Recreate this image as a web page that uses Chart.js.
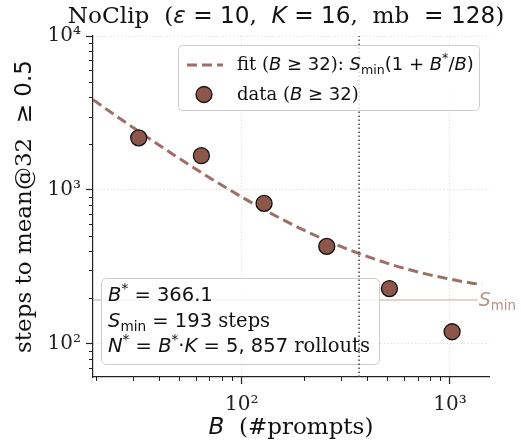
<!DOCTYPE html>
<html><head><meta charset="utf-8">
<script src="https://cdn.jsdelivr.net/npm/chart.js@4.4.1/dist/chart.umd.min.js"></script>
<style>html,body{margin:0;padding:0;background:#fff;overflow:hidden}#wrap{width:521px;height:446px;position:relative}</style>
</head><body><div id="wrap"><canvas id="c" width="521" height="446"></canvas></div>
<script>
// ---- data ----
const batchSizes     = [32, 64, 128, 256, 512, 1024];
const stepsToTarget  = [2180, 1670, 818, 430, 229, 120];
const fitB           = [19.3, 24, 32, 40, 48, 64, 80, 100, 128, 160, 200, 256, 320, 400, 512, 640, 800, 1024, 1280, 1425];
const fitSteps       = [3854, 3137, 2401, 1959, 1665, 1297, 1076, 900, 745, 635, 546, 469, 414, 370, 331, 303, 281, 262, 248, 243];
const sMinLineB      = [19.3, 1360];
const sMinLineSteps  = [193, 193];
const bStarLineB     = [366.1, 366.1];
const bStarLineSteps = [61, 10000];
const xTickValues = [20,30,40,50,60,70,80,90,100,200,300,400,500,600,700,800,900,1000];
const yTickValues = [70,80,90,100,200,300,400,500,600,700,800,900,1000,2000,3000,4000,5000,6000,7000,8000,9000,10000];
const xRange = [19.3, 1540];
const yRange = [61, 10000];

// ---- text ----
const titleSegs = [['NoClip  (','serif'],['ε','it'],[' = 10','sans'],[',  ','serif'],['K','it'],[' = 16','sans'],[',  mb ','serif'],[' = 128','sans'],[')','serif']];
const xLabelSegs = [['B','it'],['  (#prompts)','serif']];
const yLabelSegs = [['steps to mean@32 ','serif'],[' ≥ 0.5','sans']];
const legendFitSegs = [['fit (','serif'],['B','it'],[' ≥ 32','sans'],['): ','serif'],['S','it'],['min','sub'],['(1 + ','sans'],['B','it'],['*','sup'],['/','sans'],['B','it'],[')','sans']];
const legendDataSegs = [['data (','serif'],['B','it'],[' ≥ 32','sans'],[')','serif']];
const noteRows = [
  [['B','it'],['*','sup'],[' = 366.1','sans']],
  [['S','it'],['min','sub'],[' = 193','sans'],[' steps','serif']],
  [['N','it'],['*','sup'],[' = ','sans'],['B','it'],['*','sup'],['·','sans'],['K','it'],[' = 5, 857','sans'],[' rollouts','serif']]
];
const sMinLabelSegs = [['S','it'],['min','sub']];

// ---- styles ----
const BROWN = '#8c564b';
const FIT_COLOR = 'rgba(140,86,75,0.85)';
const SMIN_COLOR = 'rgba(140,86,75,0.35)';
const SERIF = "'DejaVu Serif'", SANS = "'DejaVu Sans'";
const SUP = {'0':'⁰','1':'¹','2':'²','3':'³','4':'⁴','5':'⁵','6':'⁶','7':'⁷','8':'⁸','9':'⁹'};

function isPow10(v){ const l = Math.log10(v); return Math.abs(l - Math.round(l)) < 1e-9; }
function pow10Label(v){ return '10' + String(Math.round(Math.log10(v))).split('').map(c=>SUP[c]).join(''); }
function majorCtx(c){ return c.tick && isPow10(c.tick.value); }

function fontFor(kind, size){
  if (kind === 'serif') return size + 'px ' + SERIF;
  if (kind === 'it') return 'italic ' + size + 'px ' + SANS;
  return size + 'px ' + SANS;
}
function drawRich(ctx, segs, x, y, size, align){
  const parts = segs.map(([t,k]) => {
    let s = size, dy = 0, f = k;
    if (k === 'sub'){ s = size*0.7; dy = size*0.22; f = 'sans'; }
    if (k === 'sup'){ s = size*0.7; dy = -size*0.42; f = 'sans'; }
    ctx.font = fontFor(f, s);
    return {t, font: ctx.font, dy, w: ctx.measureText(t).width};
  });
  const total = parts.reduce((a,p)=>a+p.w, 0);
  let cx = align === 'center' ? x - total/2 : (align === 'right' ? x - total : x);
  ctx.textBaseline = 'alphabetic'; ctx.textAlign = 'left';
  for (const p of parts){ ctx.font = p.font; ctx.fillText(p.t, cx, y + p.dy); cx += p.w; }
  return total;
}
function roundBox(ctx, x, y, w, h, r, fill, stroke){
  ctx.save();
  ctx.beginPath();
  ctx.moveTo(x+r, y); ctx.lineTo(x+w-r, y); ctx.arcTo(x+w, y, x+w, y+r, r);
  ctx.lineTo(x+w, y+h-r); ctx.arcTo(x+w, y+h, x+w-r, y+h, r);
  ctx.lineTo(x+r, y+h); ctx.arcTo(x, y+h, x, y+h-r, r);
  ctx.lineTo(x, y+r); ctx.arcTo(x, y, x+r, y, r);
  ctx.closePath();
  ctx.fillStyle = fill; ctx.fill();
  ctx.lineWidth = 1; ctx.strokeStyle = stroke; ctx.stroke();
  ctx.restore();
}

const decorations = {
  id: 'decorations',
  beforeDatasetDraw(chart, args){
    if (args.index === 3){ // vertical B* line drawn over the note box
      roundBox(chart.ctx, 101.5, 278.5, 278, 86, 5, 'rgba(255,255,255,0.8)', '#cccccc');
    }
  },
  afterDatasetsDraw(chart){
    const ctx = chart.ctx, xs = chart.scales.x, ys = chart.scales.y, a = chart.chartArea;
    ctx.save();
    // minor ticks
    ctx.strokeStyle = '#222'; ctx.lineWidth = 1;
    ctx.beginPath();
    xTickValues.filter(v=>!isPow10(v)).forEach(v => { const p = Math.round(xs.getPixelForValue(v))+0.5; ctx.moveTo(p, a.bottom); ctx.lineTo(p, a.bottom+4); });
    yTickValues.filter(v=>!isPow10(v)).forEach(v => { const p = Math.round(ys.getPixelForValue(v))+0.5; ctx.moveTo(a.left, p); ctx.lineTo(a.left-4, p); });
    ctx.stroke();
    // S_min label
    ctx.fillStyle = 'rgba(140,86,75,0.65)';
    drawRich(ctx, sMinLabelSegs, xs.getPixelForValue(sMinLineB[1]) + 1, ys.getPixelForValue(sMinLineSteps[0]) + 6, 19, 'left');
    // note text
    ctx.fillStyle = '#111';
    noteRows.forEach((row, i) => drawRich(ctx, row, 108, 301 + i*25.5, 19.5, 'left'));
    // legend
    roundBox(ctx, 178.5, 45.5, 301, 65, 4, 'rgba(255,255,255,0.8)', '#cccccc');
    ctx.save();
    ctx.strokeStyle = FIT_COLOR; ctx.lineWidth = 3; ctx.setLineDash([10,5]);
    ctx.beginPath(); ctx.moveTo(187, 65); ctx.lineTo(223, 65); ctx.stroke();
    ctx.restore();
    ctx.beginPath(); ctx.arc(204, 94.5, 8, 0, Math.PI*2);
    ctx.fillStyle = BROWN; ctx.fill(); ctx.lineWidth = 1.3; ctx.strokeStyle = '#111'; ctx.stroke();
    ctx.fillStyle = '#111';
    drawRich(ctx, legendFitSegs, 237, 70, 18, 'left');
    drawRich(ctx, legendDataSegs, 237, 99.5, 18, 'left');
    // title and axis titles
    drawRich(ctx, titleSegs, 286, 23, 23.2, 'center');
    drawRich(ctx, xLabelSegs, (a.left + a.right)/2, 434, 23, 'center');
    ctx.save(); ctx.translate(31, (a.top + a.bottom)/2); ctx.rotate(-Math.PI/2);
    drawRich(ctx, yLabelSegs, 0, 0, 23, 'center');
    ctx.restore();
    ctx.restore();
  }
};

const pts = (xs, ys) => xs.map((x,i) => ({x, y: ys[i]}));

new Chart(document.getElementById('c'), {
  type: 'scatter',
  data: { datasets: [
    { label: 'data (B ≥ 32)', data: pts(batchSizes, stepsToTarget), order: 0,
      backgroundColor: BROWN, borderColor: '#111', borderWidth: 1.3, pointRadius: 8, pointHoverRadius: 8 },
    { label: 'fit (B ≥ 32)', data: pts(fitB, fitSteps), order: 2, showLine: true,
      borderColor: FIT_COLOR, borderWidth: 3, borderDash: [10,5], pointRadius: 0, cubicInterpolationMode: 'monotone' },
    { label: 'S_min', data: pts(sMinLineB, sMinLineSteps), order: 3, showLine: true,
      borderColor: SMIN_COLOR, borderWidth: 1.3, pointRadius: 0 },
    { label: 'B*', data: pts(bStarLineB, bStarLineSteps), order: 1, showLine: true,
      borderColor: '#444', borderWidth: 1.5, borderDash: [1.5,2.5], pointRadius: 0 }
  ]},
  options: {
    responsive: false, maintainAspectRatio: false, animation: false, devicePixelRatio: 1,
    events: [],
    layout: { padding: { top: 36, right: 32, left: 0, bottom: 0 } },
    plugins: { legend: { display: false }, tooltip: { enabled: false }, title: { display: false } },
    scales: {
      x: {
        type: 'logarithmic', min: xRange[0], max: xRange[1],
        afterBuildTicks: s => { s.ticks = xTickValues.map(v => ({value: v, major: isPow10(v)})); },
        afterFit: s => { s.height = 69; },
        ticks: { autoSkip: false, maxRotation: 0, minRotation: 0, padding: 9, color: '#222',
          font: { family: 'DejaVu Serif', size: 20 }, callback: v => isPow10(v) ? pow10Label(v) : '' },
        grid: { color: c => majorCtx(c) ? 'rgba(0,0,0,0.16)' : 'rgba(0,0,0,0)', lineWidth: 1,
          tickColor: c => majorCtx(c) ? '#222' : 'rgba(0,0,0,0)', tickLength: 7, tickWidth: 1.2 },
        border: { display: true, color: '#222', width: 1.2, dash: [1,2.5] }
      },
      y: {
        type: 'logarithmic', min: yRange[0], max: yRange[1],
        afterBuildTicks: s => { s.ticks = yTickValues.map(v => ({value: v, major: isPow10(v)})); },
        afterFit: s => { s.width = 93; },
        ticks: { autoSkip: false, padding: 5, color: '#222',
          font: { family: 'DejaVu Serif', size: 20 }, callback: v => isPow10(v) ? pow10Label(v) : '' },
        grid: { color: c => majorCtx(c) ? 'rgba(0,0,0,0.16)' : 'rgba(0,0,0,0)', lineWidth: 1,
          tickColor: c => majorCtx(c) ? '#222' : 'rgba(0,0,0,0)', tickLength: 7, tickWidth: 1.2 },
        border: { display: true, color: '#222', width: 1.2, dash: [1,2.5] }
      }
    }
  },
  plugins: [decorations]
});
</script></body></html>
